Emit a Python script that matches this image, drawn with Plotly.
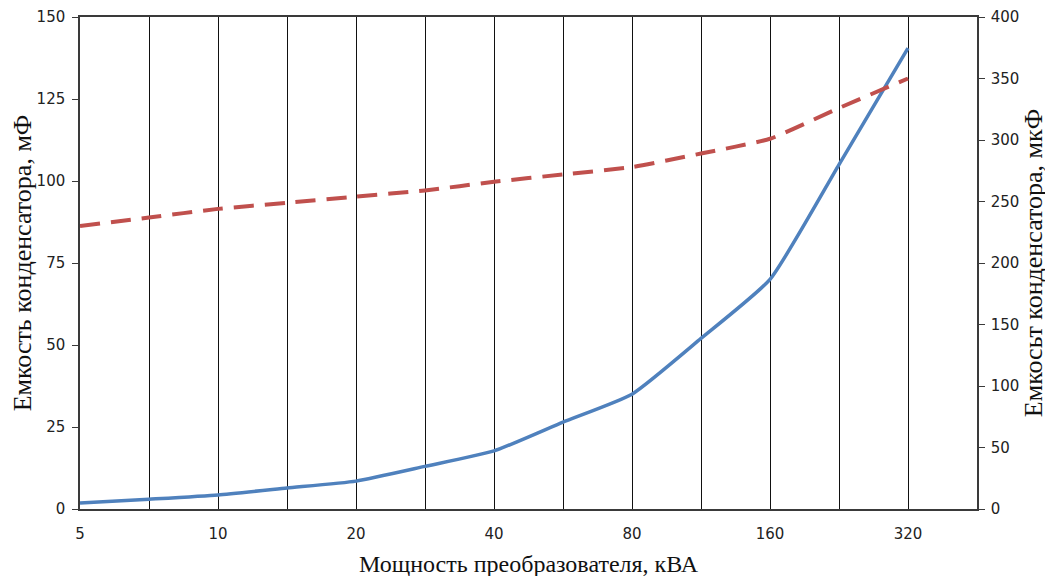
import plotly.graph_objects as go

categories = ["5", "7", "10", "14", "20", "28", "40", "57", "80", "113", "160", "226", "320"]
tick_labels = ["5", "", "10", "", "20", "", "40", "", "80", "", "160", "", "320"]
cap_mF = [1.8, 3.0, 4.3, 6.4, 8.5, 13.0, 17.7, 26.5, 35.0, 52.0, 70.0, 105.0, 140.5]
cap_uF = [230, 237, 244, 249, 254, 259, 266, 272, 278, 289, 301, 326, 350]

axis_col = "#3a3a3a"
tick_font = dict(family="DejaVu Sans", size=15, color="#222222")
ytitle_font = dict(family="Liberation Serif", size=26, color="#111111")
xtitle_font = dict(family="Liberation Serif", size=24, color="#111111")

fig = go.Figure()
fig.add_trace(go.Scatter(x=categories, y=cap_mF, mode="lines",
                         line=dict(color="#4F81BD", width=3.5, shape="spline", smoothing=0.5),
                         showlegend=False))
fig.add_trace(go.Scatter(x=categories, y=cap_uF, mode="lines", yaxis="y2",
                         line=dict(color="#C0504D", width=4, dash="20px,11px", shape="spline", smoothing=0.5),
                         showlegend=False))

fig.update_layout(
    width=1053, height=576,
    margin=dict(l=72, r=84, t=9, b=75, autoexpand=False),
    plot_bgcolor="white", paper_bgcolor="white",
    xaxis=dict(type="category", range=[0, 13], tickmode="array",
               tickvals=categories, ticktext=tick_labels,
               showgrid=True, gridcolor="#111111", gridwidth=1,
               showline=True, linecolor=axis_col, linewidth=1.5, mirror=True,
               ticks="outside", ticklen=10, tickcolor="white",
               tickfont=tick_font, zeroline=False,
               title=dict(text="Мощность преобразователя, кВА", font=xtitle_font, standoff=13)),
    yaxis=dict(range=[0, 150], tickmode="linear", tick0=0, dtick=25,
               showgrid=False, zeroline=False,
               showline=True, linecolor=axis_col, linewidth=1.5,
               ticks="outside", ticklen=6, tickcolor=axis_col,
               tickfont=tick_font, ticklabelstandoff=4,
               title=dict(text="Емкость конденсатора, мФ", font=ytitle_font, standoff=0)),
    yaxis2=dict(range=[0, 400], tickmode="linear", tick0=0, dtick=50,
                overlaying="y", side="right",
                showgrid=False, zeroline=False,
                showline=True, linecolor=axis_col, linewidth=1.5,
                ticks="outside", ticklen=6, tickcolor=axis_col,
                tickfont=tick_font, ticklabelstandoff=3,
                title=dict(text="Емкосьт конденсатора, мкФ", font=ytitle_font, standoff=4)),
)

fig.write_html("out.html")
